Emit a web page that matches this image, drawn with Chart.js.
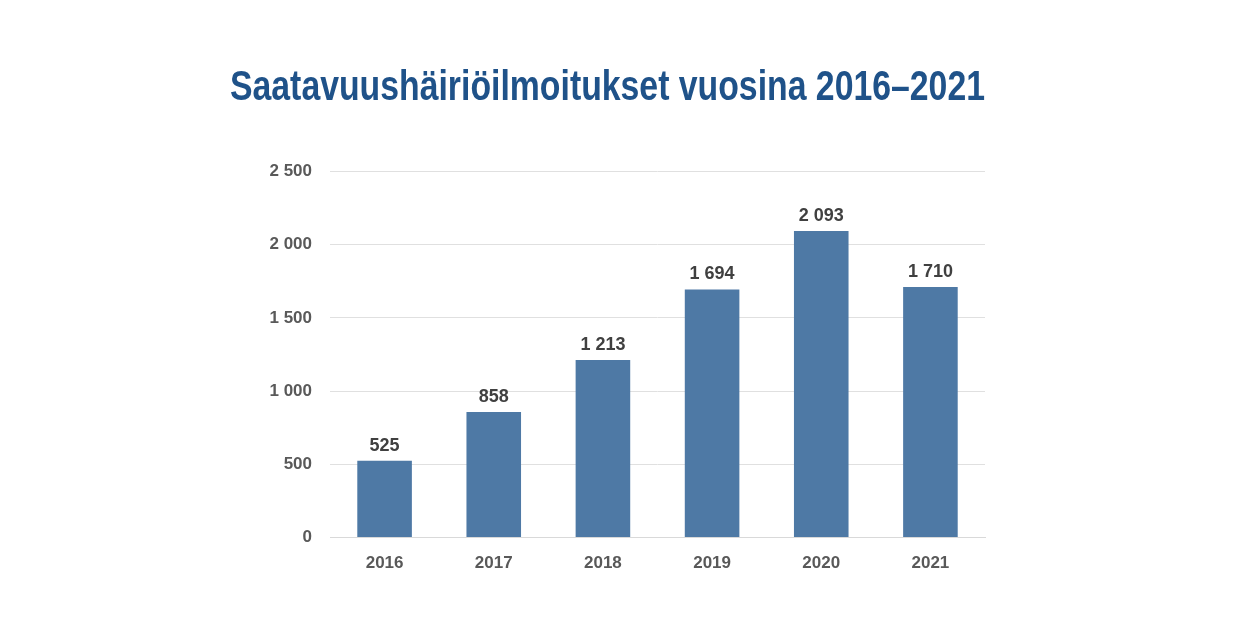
<!DOCTYPE html>
<html><head><meta charset="utf-8">
<script src="https://cdn.jsdelivr.net/npm/chart.js@4"></script>
<style>html,body{margin:0;padding:0;background:#fff}#w{width:1250px;height:617px}</style>
</head><body><div id="w"><canvas id="c"></canvas></div>
<script>
const categories = ["2016","2017","2018","2019","2020","2021"];
const values = [525, 858, 1213, 1694, 2093, 1710];
const titleText = "Saatavuushäiriöilmoitukset vuosina 2016–2021";
const fmt = v => String(v).replace(/\B(?=(\d{3})+(?!\d))/g, " ");
const labelPlugin = {
  id: 'lbl',
  afterDatasetsDraw(chart) {
    const ctx = chart.ctx, meta = chart.getDatasetMeta(0);
    ctx.save();
    ctx.font = "bold 18px 'Liberation Sans'";
    ctx.fillStyle = "#404040"; ctx.textAlign = "center"; ctx.textBaseline = "bottom";
    meta.data.forEach((b, i) => ctx.fillText(fmt(values[i]), b.x, b.y - 6));
    ctx.restore();
  }
};
new Chart(document.getElementById('c'), {
  type: 'bar',
  data: { labels: categories, datasets: [{ data: values, backgroundColor: '#4E79A5', barPercentage: 0.5, categoryPercentage: 1 }] },
  options: {
    responsive: true, maintainAspectRatio: false, animation: false,
    layout: { padding: { left: 230, right: 265, bottom: 35, top: 0 } },
    plugins: {
      legend: { display: false }, tooltip: { enabled: false },
      title: { display: true, text: titleText, color: '#1F5289',
        font: { family: "'Liberation Sans'", size: 42, weight: 700 },
        padding: { top: 63, bottom: 58 } }
    },
    scales: {
      x: { grid: { display: false }, border: { color: '#d9d9d9' },
        ticks: { color: '#595959', font: { family: "'Liberation Sans'", size: 17, weight: 'bold' }, padding: 8 } },
      y: { min: 0, max: 2500, afterFit(s) { s.width = 100; },
        grid: { color: '#e0e0e0', drawTicks: false }, border: { display: false },
        ticks: { stepSize: 500, padding: 18, callback: v => fmt(v), color: '#595959', font: { family: "'Liberation Sans'", size: 17, weight: 'bold' } } }
    }
  },
  plugins: [labelPlugin]
});
</script></body></html>
